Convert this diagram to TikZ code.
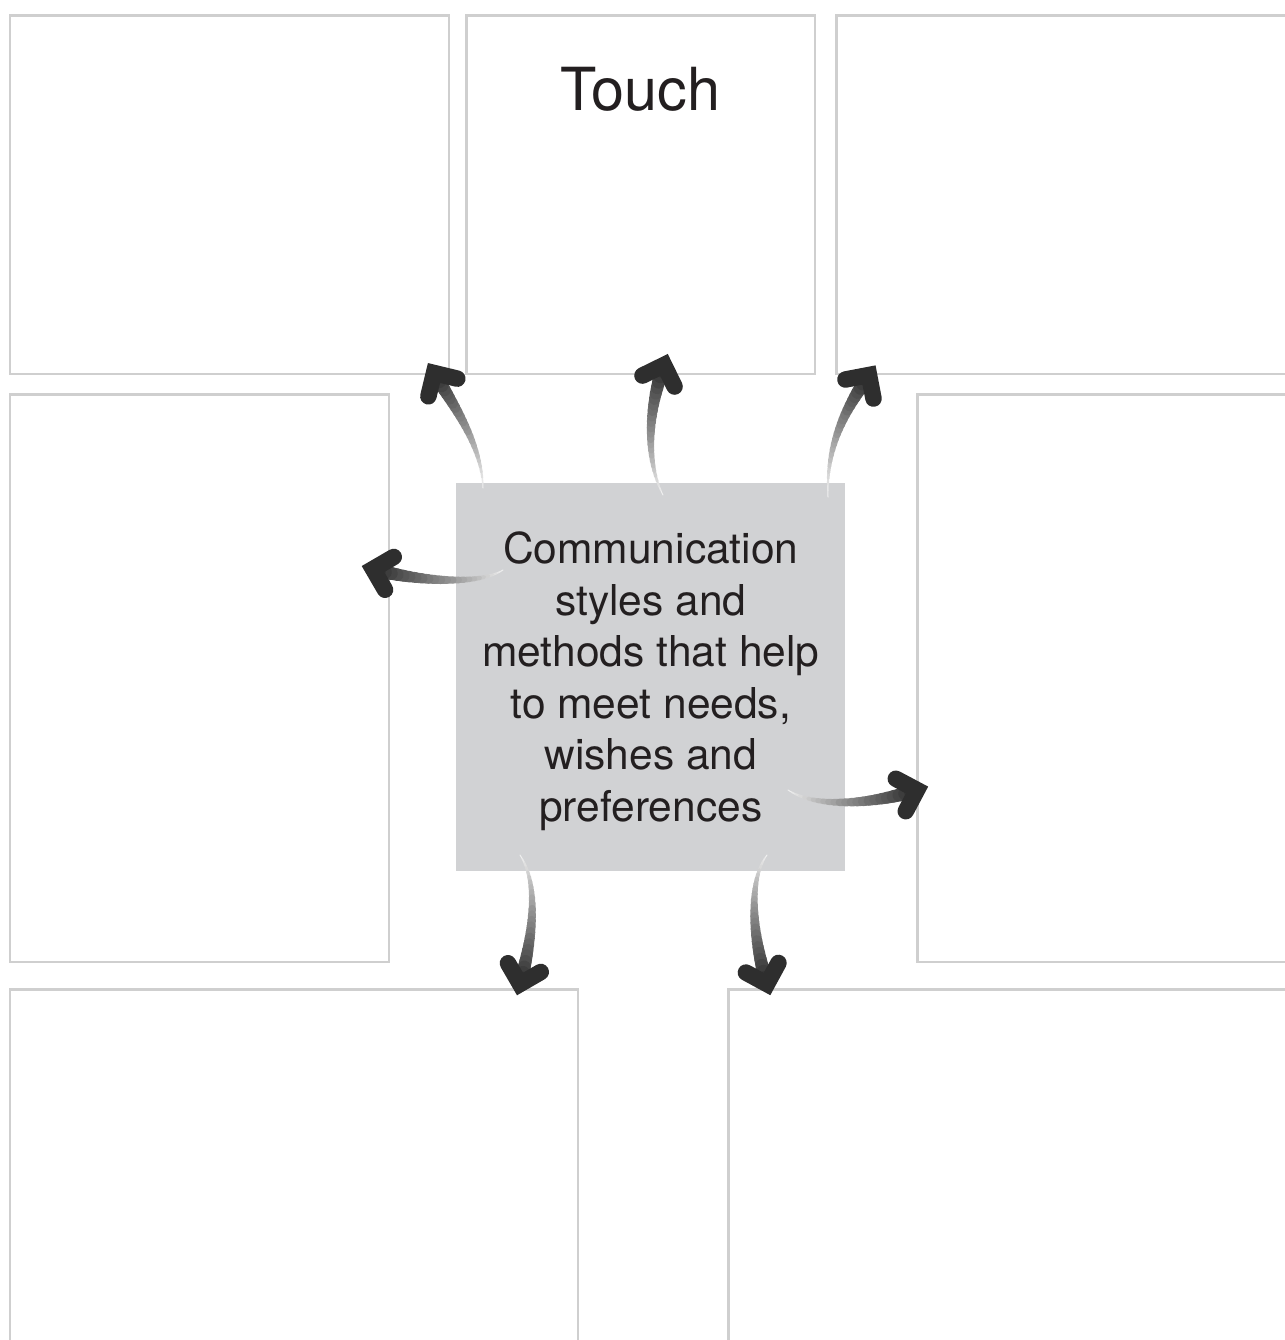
\documentclass[tikz,border=0pt]{standalone}
\usepackage{fontspec}
\setmainfont{TeX Gyre Heros}
\usetikzlibrary{calc,positioning}
\definecolor{rimgray}{HTML}{CFCFCF}
\definecolor{hubgray}{HTML}{D1D2D4}
\definecolor{inkgray}{HTML}{231F20}
\tikzset{
  panel/.style={draw=rimgray, line width=0.05cm, anchor=north west, inner sep=0pt},
  swooshhead/.style={line width=0.33cm, black!82, line cap=round, line join=miter},
}
% tapered arrow: start, control 1, control 2, tip
\newcommand{\swoosh}[4]{%
  \foreach \k in {0,...,24}
    \path (#1) .. controls (#2) and (#3) .. (#4) coordinate[pos=\k/24] (w\k);
  \foreach \k [count=\n from 1, evaluate=\k as \lw using {0.02+0.0115*\k},
      evaluate=\k as \sh using {int(6+3.2*\k)}] in {0,...,23}
    \draw[line width=\lw cm, black!\sh, line cap=round] (w\k) -- (w\n);
  \draw[swooshhead] ($(#4)!0.48cm!45:(w23)$) -- (#4) -- ($(#4)!0.48cm!-45:(w23)$);
}

\begin{document}
\begin{tikzpicture}[x=0.02cm, y=-0.02cm]
      \useasboundingbox (0,0) rectangle (1285,1340);
      \clip (0,0) rectangle (1285,1340);

      % boxes round the hub
      \node[panel, minimum width=8.78cm, minimum height=7.18cm] (tl) at (9,14) {};
      \node[panel, minimum width=6.98cm, minimum height=7.18cm] (tc) at (465,14) {};
      \node[panel, minimum width=10cm, minimum height=7.18cm] (tr) at (835,14) {};
      \node[panel, minimum width=7.58cm, minimum height=11.36cm] (ml) at (9,393) {};
      \node[panel, minimum width=8.4cm, minimum height=11.36cm] (mr) at (916,393) {};
      \node[panel, minimum width=11.36cm, minimum height=8cm] (bl) at (9,988) {};
      \node[panel, minimum width=12cm, minimum height=8cm] (br) at (727,988) {};

      \node[inner sep=0pt, text=inkgray, font=\fontsize{33.8}{40}\selectfont,
            below=1.06cm of tc.north] (touch) {Touch};

      % hub
      \node[fill=hubgray, anchor=north west, inner sep=0pt,
            minimum width=7.78cm, minimum height=7.76cm] (hub) at (456,483) {};
      \node[align=center, text=inkgray, font=\fontsize{24.2}{29.3}\selectfont]
            (hubtext) at ($(hub.center)+(0,4)$) {Communication\\styles and\\methods that help\\to meet needs,\\wishes and\\preferences};

      % arrow ends
      \coordinate (tlfrom) at (483,488);  \coordinate (tlto) at (434,373);
      \coordinate (tcfrom) at (663,495);  \coordinate (tcto) at (664,365);
      \coordinate (trfrom) at (828,497);  \coordinate (trto) at (869,375);
      \coordinate (mlfrom) at (503,570);  \coordinate (mlto) at (373,569);
      \coordinate (mrfrom) at (788,790);  \coordinate (mrto) at (917,790);
      \coordinate (blfrom) at (520,855);  \coordinate (blto) at (520,984);
      \coordinate (brfrom) at (767,855);  \coordinate (brto) at (767,984);

      \swoosh{tlfrom}{482,445}{454,406}{tlto}
      \swoosh{tcfrom}{645,460}{648,410}{tcto}
      \swoosh{trfrom}{826,445}{845,410}{trto}
      \swoosh{mlfrom}{480,585}{420,582}{mlto}
      \swoosh{mrfrom}{815,808}{870,805}{mrto}
      \swoosh{blfrom}{540,885}{532,940}{blto}
      \swoosh{brfrom}{748,880}{752,935}{brto}
\end{tikzpicture}
\end{document}
